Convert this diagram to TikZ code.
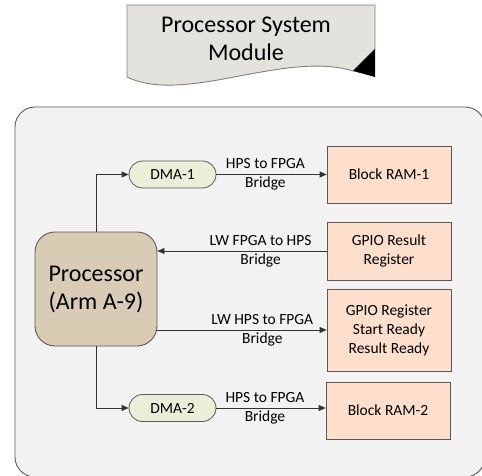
\documentclass[tikz,border=0pt]{standalone}
\usepackage{fontspec}
\setmainfont{Carlito}
\usetikzlibrary{arrows.meta,calc}
\definecolor{docfill}{HTML}{E4E2DC}
\definecolor{panelfill}{HTML}{F2F2F2}
\definecolor{cpufill}{HTML}{D8CCB4}
\definecolor{dmafill}{HTML}{EBEFD8}
\definecolor{memfill}{HTML}{FDDFCC}
\definecolor{edgegray}{HTML}{595959}
\tikzset{
  panel/.style={draw=edgegray, fill=panelfill, line width=0.9pt, rounded corners=20pt},
  cpu/.style={draw=edgegray, fill=cpufill, line width=0.9pt, rounded corners=20pt,
    minimum width=122pt, minimum height=114pt, align=center,
    font=\fontsize{24}{28}\selectfont},
  dma/.style={draw=edgegray, fill=dmafill, line width=0.8pt, rounded corners=13.5pt,
    minimum width=87pt, minimum height=27pt, font=\fontsize{15.5}{19}\selectfont},
  mem/.style={draw=edgegray, fill=memfill, line width=0.8pt, minimum width=124pt,
    align=center, font=\fontsize{15.5}{19}\selectfont},
  link/.style={draw=black!80, line width=0.8pt, -{Triangle[length=7pt,width=6pt]}},
  bridge/.style={align=center, inner sep=0pt, font=\fontsize{15.5}{19}\selectfont}
}
\begin{document}
\begin{tikzpicture}[x=1pt,y=-1pt]
\useasboundingbox (0,0) rectangle (482,476);
\clip (0,0) rectangle (482,476);

% module title sheet with folded corner
\path[fill=docfill, draw=gray, line width=0.9pt]
  (127,5) -- (375,5) -- (375,49) -- (353,71)
  .. controls (285,50) and (185,105) .. (127,77) -- cycle;
\fill[black] (353,71) -- (375,49) -- (375,77) -- cycle;
\node[align=center, font=\fontsize{24}{28}\selectfont] (title) at (246,39)
  {Processor System\\Module};

% processor system panel
\path[panel] (15,107) rectangle (485,477);

% blocks
\node[cpu] (proc) at (96,289) {Processor\\(Arm A-9)};
\node[dma] (dma1) at (172.5,174.5) {DMA-1};
\node[dma] (dma2) at (172.5,408) {DMA-2};
\node[mem, minimum height=57pt] (ram1) at (389,174.5) {Block RAM-1};
\node[mem, minimum height=58pt] (gpior) at (389,251) {GPIO Result\\Register};
\node[mem, minimum height=82pt] (gpio) at (389,330) {GPIO Register\\Start Ready\\Result Ready};
\node[mem, minimum height=57pt] (ram2) at (388,410.5) {Block RAM-2};

% connections
\draw[link] (proc.north) |- (dma1.west);
\draw[link] (dma1.east) -- node[bridge, pos=0.445] {HPS to FPGA\\Bridge} (ram1.west |- dma1.east);
\draw[link] (gpior.west) -- node[bridge, pos=0.39] {LW FPGA to HPS\\Bridge} (gpior.west -| proc.east);
\draw[link] (gpio.west -| proc.east) -- node[bridge, pos=0.62] {LW HPS to FPGA\\Bridge} (gpio.west);
\draw[link] (proc.south) |- (dma2.west);
\draw[link] (dma2.east) -- node[bridge, pos=0.445] {HPS to FPGA\\Bridge} (ram2.west |- dma2.east);
\end{tikzpicture}
\end{document}
